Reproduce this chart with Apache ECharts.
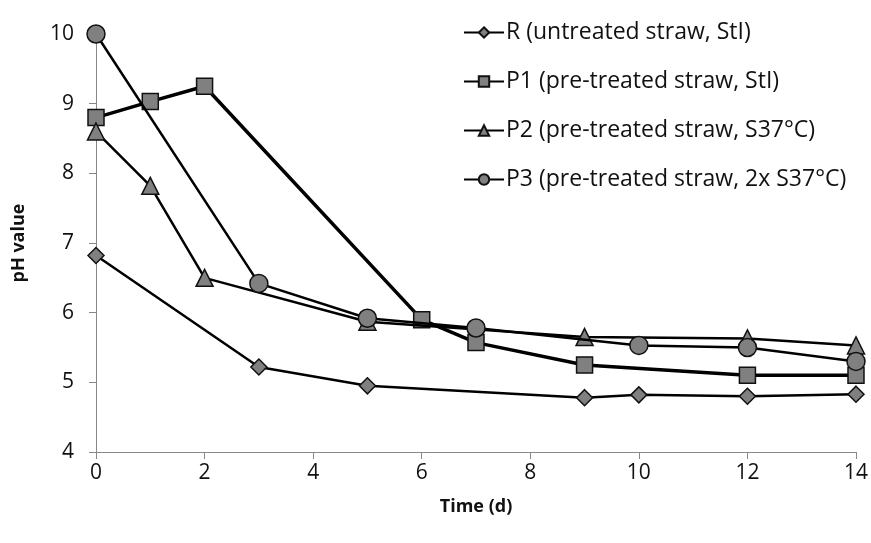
<!DOCTYPE html>
<html>
<head>
<meta charset="utf-8">
<script src="https://cdn.jsdelivr.net/npm/echarts@6/dist/echarts.min.js"></script>
<style>body{margin:0;background:#fff}#c{width:871px;height:543px}</style>
</head>
<body>
<div id="c"></div>
<script>
var seriesNames = ['R (untreated straw, StI)', 'P1 (pre-treated straw, StI)', 'P2 (pre-treated straw, S37°C)', 'P3 (pre-treated straw, 2x S37°C)'];
var rData = [[0, 6.82], [3, 5.22], [5, 4.95], [9, 4.78], [10, 4.82], [12, 4.80], [14, 4.83]];
var p1Data = [[0, 8.8], [1, 9.03], [2, 9.25], [6, 5.9], [7, 5.57], [9, 5.25], [12, 5.1], [14, 5.1]];
var p2Data = [[0, 8.6], [1, 7.82], [2, 6.5], [5, 5.87], [9, 5.65], [12, 5.63], [14, 5.53]];
var p3Data = [[0, 10.0], [3, 6.42], [5, 5.92], [7, 5.78], [10, 5.53], [12, 5.5], [14, 5.3]];
var symbols = ['diamond', 'rect', 'triangle', 'circle'];
var sizes = [16, 16, 17, 18];
var widths = [2.5, 3.5, 2.5, 2.5];
var allData = [rData, p1Data, p2Data, p3Data];

var font = '"Open Sans", sans-serif';
var chart = echarts.init(document.getElementById('c'));

var series = allData.map(function (d, i) {
    return {
        name: seriesNames[i],
        type: 'line',
        data: d,
        symbol: symbols[i],
        symbolSize: sizes[i],
        lineStyle: { color: '#000', width: widths[i] },
        itemStyle: { color: '#808080', borderColor: '#111', borderWidth: 1.5 },
        z: 2 + i
    };
});

chart.setOption({
    animation: false,
    grid: { left: 96, right: 15, top: 34, bottom: 91 },
    legend: {
        orient: 'vertical',
        left: 458,
        top: 16,
        itemWidth: 40,
        itemHeight: 13,
        itemGap: 26,
        textStyle: { fontFamily: font, fontSize: 23, color: '#111', padding: [0, 0, 0, -3] },
        data: seriesNames
    },
    xAxis: {
        type: 'value', min: 0, max: 14, interval: 2,
        name: 'Time (d)', nameLocation: 'middle', nameGap: 46,
        nameTextStyle: { fontFamily: font, fontSize: 18, fontWeight: 'bold', color: '#111' },
        axisLine: { lineStyle: { color: '#888' } },
        axisTick: { inside: false, length: 7, lineStyle: { color: '#888' } },
        axisLabel: { fontFamily: font, fontSize: 21, color: '#111', margin: 11 },
        splitLine: { show: false }
    },
    yAxis: {
        type: 'value', min: 4, max: 10, interval: 1,
        name: 'pH value', nameLocation: 'middle', nameGap: 68, nameRotate: 90,
        nameTextStyle: { fontFamily: font, fontSize: 18, fontWeight: 'bold', color: '#111' },
        axisLine: { show: true, lineStyle: { color: '#888' } },
        axisTick: { show: true, length: 7, lineStyle: { color: '#888' } },
        axisLabel: { fontFamily: font, fontSize: 21, color: '#111', margin: 22 },
        splitLine: { show: false }
    },
    series: series
});
</script>
</body>
</html>
